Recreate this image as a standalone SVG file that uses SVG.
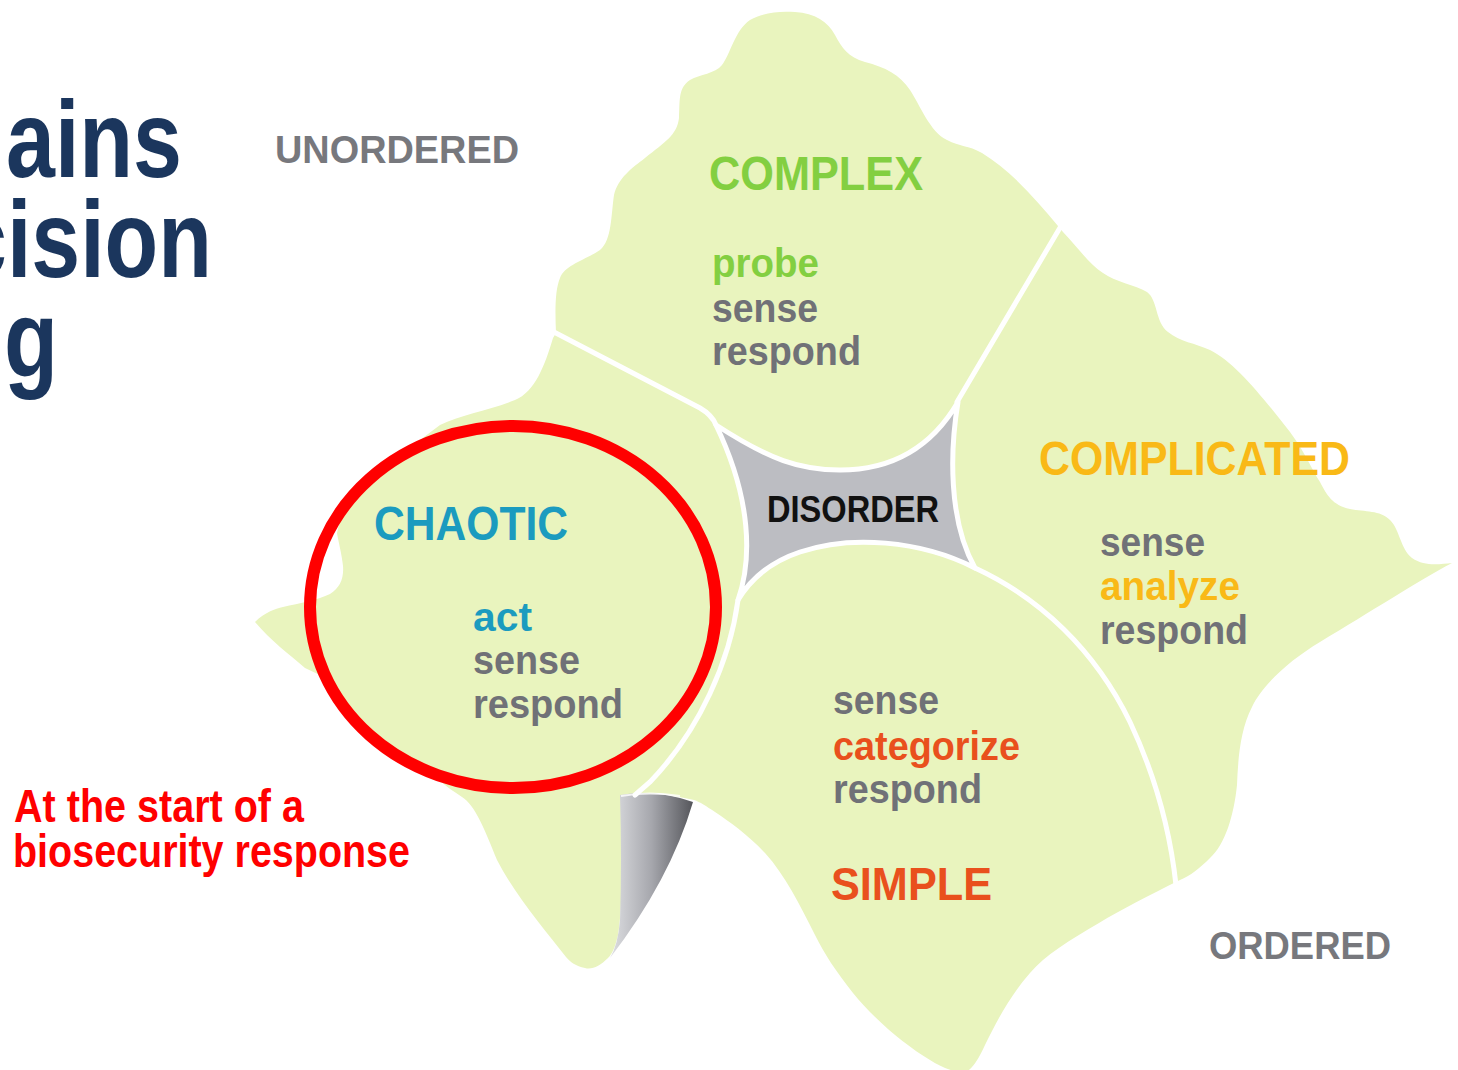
<svg xmlns="http://www.w3.org/2000/svg" width="1458" height="1070" viewBox="0 0 1458 1070">
<defs>
<style>
text{font-family:"Liberation Sans",Arial,sans-serif;font-weight:bold}
.title{fill:#1b365d;font-size:110px}
.note{fill:#ff0000;font-size:47px}
.axis{fill:#77787d;font-size:39px}
.dom{font-size:48px}
.step{font-size:41px;fill:#707177}
.div{fill:none;stroke:#ffffff;stroke-width:5;stroke-linecap:round}
</style>
<linearGradient id="curlGrad" x1="0" y1="0" x2="1" y2="0">
<stop offset="0" stop-color="#dedfe2"/>
<stop offset="0.5" stop-color="#a6a7ad"/>
<stop offset="1" stop-color="#55565b"/>
</linearGradient>
</defs>
<rect width="1458" height="1070" fill="#ffffff"/>

<g id="title">
<text class="title" x="6" y="177" textLength="176" lengthAdjust="spacingAndGlyphs">ains</text>
<text class="title" x="-42" y="277" textLength="254" lengthAdjust="spacingAndGlyphs">cision</text>
<text class="title" x="4" y="377" textLength="54" lengthAdjust="spacingAndGlyphs">g</text>
</g>

<g id="framework">
<path id="field" fill="#e9f4be" d="M 795,12 C 815,13 828,22 835,35 C 842,48 848,57 865,62 C 885,67 900,75 910,90 C 920,105 930,132 947,140 C 960,147 968,145 982,153 C 1010,170 1035,198 1058,226 L 1063,232 C 1080,250 1090,265 1103,273 C 1115,282 1135,285 1147,292 C 1158,300 1155,322 1168,332 C 1180,342 1195,343 1210,350 C 1235,362 1265,400 1290,432 C 1305,452 1312,470 1320,482 C 1327,495 1332,505 1350,509 C 1365,512 1380,510 1390,520 C 1400,530 1400,548 1412,558 C 1425,567 1440,564 1452,563 C 1420,580 1370,612 1320,642 C 1290,660 1262,685 1252,707 C 1240,730 1238,760 1237,785 C 1234,815 1225,845 1210,858 C 1200,868 1190,876 1180,880 C 1150,895 1120,910 1099,923 C 1070,940 1045,955 1030,973 C 1008,998 995,1025 985,1045 C 978,1060 972,1070 965,1072 C 950,1072 940,1066 930,1060 C 905,1045 875,1020 853,993 C 835,970 825,955 815,935 C 800,905 785,875 765,853 C 748,835 730,822 715,812 C 706,806 700,802 694,800 L 660,793 L 621,795 C 622,850 623,905 618,935 C 615,948 612,954 608,958 C 600,966 592,970 585,968 C 576,966 570,962 566,957 C 545,930 515,895 497,860 C 485,830 475,805 462,797 C 452,790 445,786 440,780 L 420,768 L 380,745 L 345,708 L 322,676 L 305,668 C 290,655 270,640 255,622 C 265,612 275,609 283,607 C 300,603 318,600 330,594 C 340,588 344,578 343,566 C 342,555 338,540 337,533 L 340,520 L 360,492 L 390,462 L 420,440 L 440,425 C 460,415 490,410 515,400 C 535,392 545,365 553,338 L 556,333 C 555,310 555,290 560,278 C 565,265 585,260 600,250 C 612,240 611,215 614,195 C 618,178 632,168 645,158 C 665,142 677,135 679,118 C 680,100 678,88 690,80 C 700,74 715,74 722,65 C 730,55 735,30 750,20 C 765,12 780,11 795,12 Z"/>
<path id="curl" fill="url(#curlGrad)" d="M 620,795 Q 655,789 693,802 Q 670,880 610,958 Q 618,945 620,920 Q 622,860 620,795 Z"/>
<path d="M 621,796 Q 650,791 680,796" fill="none" stroke="#ffffff" stroke-width="2" opacity="0.8"/>
</g>

<g id="connectors">
<path class="div" d="M 552,331 L 700,408 Q 712,415 716,425"/>
<path class="div" d="M 1061,226 L 957,402"/>
<path class="div" d="M 975,568 C 1040,598 1095,650 1130,722 C 1155,775 1170,830 1176,885"/>
<path class="div" d="M 738,600 C 730,660 700,730 650,782 L 635,795"/>
</g>

<g id="disorder">
<path fill="#bcbdc2" stroke="#ffffff" stroke-width="5" stroke-linejoin="round" d="M 716,425 C 770,460 800,470 840,470 C 890,470 930,450 958,402 C 950,450 948,520 975,568 C 920,540 850,535 800,552 C 770,562 750,580 738,600 C 752,560 752,500 716,425 Z"/>
<text x="767" y="522" font-size="37" fill="#111111" textLength="172" lengthAdjust="spacingAndGlyphs">DISORDER</text>
</g>

<g id="complex">
<text class="dom" x="709" y="190" fill="#83cf41" textLength="214" lengthAdjust="spacingAndGlyphs">COMPLEX</text>
<text class="step" x="712" y="277" fill="#83cf41" style="fill:#83cf41" textLength="107" lengthAdjust="spacingAndGlyphs">probe</text>
<text class="step" x="712" y="322" textLength="106" lengthAdjust="spacingAndGlyphs">sense</text>
<text class="step" x="712" y="365" textLength="149" lengthAdjust="spacingAndGlyphs">respond</text>
</g>

<g id="complicated">
<text class="dom" x="1039" y="475" fill="#f9b917" textLength="311" lengthAdjust="spacingAndGlyphs">COMPLICATED</text>
<text class="step" x="1100" y="556" textLength="105" lengthAdjust="spacingAndGlyphs">sense</text>
<text class="step" x="1100" y="600" style="fill:#f9b917" textLength="140" lengthAdjust="spacingAndGlyphs">analyze</text>
<text class="step" x="1100" y="644" textLength="148" lengthAdjust="spacingAndGlyphs">respond</text>
</g>

<g id="chaotic">
<text class="dom" x="374" y="540" fill="#1b9bbf" textLength="194" lengthAdjust="spacingAndGlyphs">CHAOTIC</text>
<text class="step" x="473" y="631" style="fill:#1b9bbf" textLength="59" lengthAdjust="spacingAndGlyphs">act</text>
<text class="step" x="473" y="674" textLength="107" lengthAdjust="spacingAndGlyphs">sense</text>
<text class="step" x="473" y="718" textLength="150" lengthAdjust="spacingAndGlyphs">respond</text>
</g>

<g id="simple">
<text class="step" x="833" y="714" textLength="106" lengthAdjust="spacingAndGlyphs">sense</text>
<text class="step" x="833" y="760" style="fill:#e9501d" textLength="187" lengthAdjust="spacingAndGlyphs">categorize</text>
<text class="step" x="833" y="803" textLength="149" lengthAdjust="spacingAndGlyphs">respond</text>
<text class="dom" x="831" y="900" font-size="46" fill="#e9501d" style="font-size:46px" textLength="161" lengthAdjust="spacingAndGlyphs">SIMPLE</text>
</g>

<g id="axes">
<text class="axis" x="275" y="163" textLength="244" lengthAdjust="spacingAndGlyphs">UNORDERED</text>
<text class="axis" x="1209" y="959" textLength="182" lengthAdjust="spacingAndGlyphs">ORDERED</text>
</g>

<g id="highlight">
<ellipse cx="513" cy="607" rx="203" ry="181" fill="none" stroke="#ff0000" stroke-width="12"/>
</g>

<g id="annotation">
<text class="note" x="14" y="822" textLength="290" lengthAdjust="spacingAndGlyphs">At the start of a</text>
<text class="note" x="13" y="867" textLength="397" lengthAdjust="spacingAndGlyphs">biosecurity response</text>
</g>
</svg>
